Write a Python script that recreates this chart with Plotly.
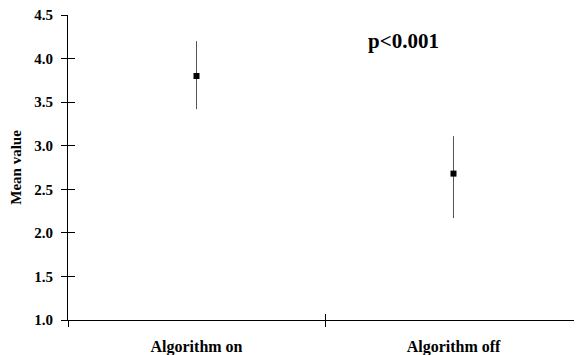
import plotly.graph_objects as go

categories = ["Algorithm on", "Algorithm off"]
cat_pos = [0.5, 1.5]
boundaries = [0, 1, 2]
means = [3.80, 2.68]
err_plus = [0.40, 0.43]
err_minus = [0.38, 0.51]
y_ticks = [1.0, 1.5, 2.0, 2.5, 3.0, 3.5, 4.0, 4.5]

FONT = "Liberation Serif"

fig = go.Figure()
fig.add_trace(go.Scatter(
    x=cat_pos, y=means, mode="markers",
    marker=dict(symbol="square", size=6, color="black"),
    error_y=dict(type="data", symmetric=False, array=err_plus, arrayminus=err_minus,
                 color="#555555", thickness=1, width=0),
    hoverinfo="skip", showlegend=False,
))
# invisible helper traces so the overlay axes (inner halves of crossing ticks) are drawn
fig.add_trace(go.Scatter(
    x=cat_pos, y=means, mode="markers", xaxis="x2", yaxis="y",
    marker=dict(opacity=0), hoverinfo="skip", showlegend=False,
))
fig.add_trace(go.Scatter(
    x=cat_pos, y=means, mode="markers", xaxis="x", yaxis="y2",
    marker=dict(opacity=0), hoverinfo="skip", showlegend=False,
))

# the page adds an 8px body margin, so the figure is sized 8px smaller
fig.update_layout(
    width=574, height=347,
    margin=dict(l=60, r=0, t=7, b=35),
    paper_bgcolor="white", plot_bgcolor="white",
    font=dict(family=FONT, color="black", weight="bold"),
    xaxis=dict(
        range=[0, 2], tickvals=cat_pos, ticktext=categories, ticks="",
        showline=True, linecolor="black", linewidth=1, showgrid=False, zeroline=False,
        tickfont=dict(family=FONT, size=16, weight="bold"), ticklabelstandoff=12,
        automargin=False, ticklabeloverflow="allow",
        minor=dict(tickvals=boundaries, ticks="outside", ticklen=6, tickcolor="black", showgrid=False),
    ),
    xaxis2=dict(
        range=[0, 2], overlaying="x", anchor="y", side="bottom",
        tickvals=boundaries, ticks="inside", ticklen=6, tickcolor="black",
        showticklabels=False, showline=False, showgrid=False, zeroline=False,
        automargin=False,
    ),
    yaxis=dict(
        range=[1, 4.5], tickvals=y_ticks, tickformat=".1f", ticks="outside", ticklen=6,
        tickcolor="black", showline=True, linecolor="black", linewidth=1,
        showgrid=False, zeroline=False, ticklabelstandoff=5,
        tickfont=dict(family=FONT, size=15, weight="bold"),
        title=dict(text="Mean value", font=dict(family=FONT, size=15, weight="bold"), standoff=10),
        automargin=False, ticklabeloverflow="allow",
    ),
    yaxis2=dict(
        range=[1, 4.5], overlaying="y", anchor="x", side="left",
        tickvals=y_ticks, ticks="inside", ticklen=7, tickcolor="black",
        showticklabels=False, showline=False, showgrid=False, zeroline=False,
        automargin=False,
    ),
    annotations=[dict(
        text="p<0.001", xref="paper", yref="paper", x=0.652, y=0.915,
        xanchor="center", yanchor="middle",
        showarrow=False, font=dict(family=FONT, size=21, weight="bold"),
    )],
)

fig.write_html("out.html")
